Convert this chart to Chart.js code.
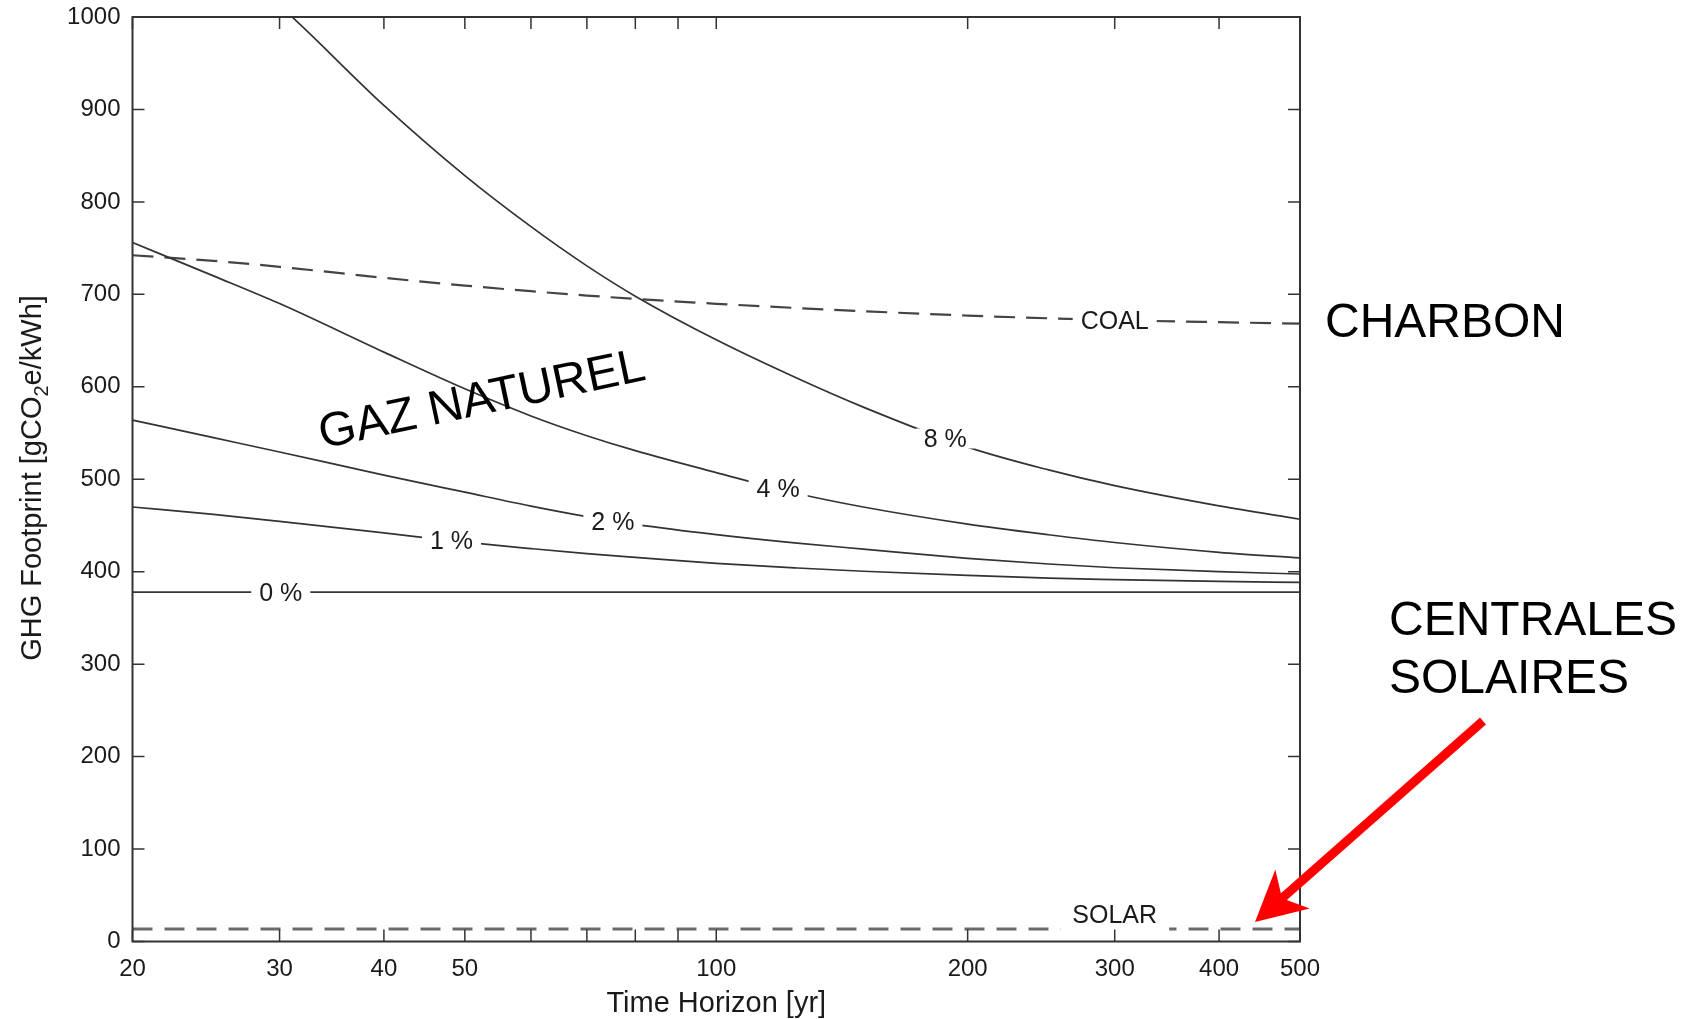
<!DOCTYPE html>
<html><head><meta charset="utf-8">
<script src="https://cdn.jsdelivr.net/npm/chart.js@4.4.1/dist/chart.umd.min.js"></script>
<style>html,body{margin:0;padding:0;background:#fff;}canvas{display:block;}</style>
</head><body>
<canvas id="c" width="1695" height="1019"></canvas>
<script>
// ---- data ----
const horizons = [20, 25, 30, 40, 50, 60, 70, 80, 100, 125, 150, 200, 250, 300, 400, 500];
const leak0 = [378, 378, 378, 378, 378, 378, 378, 378, 378, 378, 378, 378, 378, 378, 378, 378];
const leak1 = [470, 462, 454.5, 442, 432, 425, 419.5, 415.5, 409, 404, 400.5, 396, 393, 391.5, 389.5, 388.5];
const leak2 = [564, 545, 529.5, 504.5, 486, 471, 459.6, 451.2, 440.1, 430.9, 424.5, 414.5, 408.3, 404.3, 400, 397.5];
const leak4 = [756, 720, 690, 637.5, 597.8, 568.5, 547.1, 530.9, 507.2, 484.6, 470, 451.5, 440, 431.6, 421, 415];
const leak8 = [1126, 1070, 1012.4, 904.4, 828.4, 773.2, 730.8, 698, 650.8, 609.2, 578, 534.8, 510.1, 493.1, 471.2, 456.7];
const coal  = [742.3, 736.2, 729.8, 717.9, 709.5, 703.4, 698.7, 695.1, 689.8, 685.2, 681.8, 677, 674.1, 672.1, 669.9, 668.3];
const solar = [13.5, 13.5, 13.5, 13.5, 13.5, 13.5, 13.5, 13.5, 13.5, 13.5, 13.5, 13.5, 13.5, 13.5, 13.5, 13.5];

const xTicks = [20, 30, 40, 50, 60, 70, 80, 90, 100, 200, 300, 400, 500];
const xTickLabels = [20, 30, 40, 50, 100, 200, 300, 400, 500];
const yTicks = [0, 100, 200, 300, 400, 500, 600, 700, 800, 900, 1000];

const lineLabelTexts = ['0 %', '1 %', '2 %', '4 %', '8 %', 'COAL', 'SOLAR'];
const lineLabelSeries = [leak0, leak1, leak2, leak4, leak8, coal, solar];
const lineLabelHorizons = [30.1, 48.2, 75.2, 118.6, 188, 300, 300];

const FONT = '"Liberation Sans", Arial, Helvetica, sans-serif';

function pts(arr) { return horizons.map((h, i) => ({ x: h, y: arr[i] })); }
function interp(arr, t) {
  for (let i = 0; i < horizons.length - 1; i++) {
    if (t >= horizons[i] && t <= horizons[i + 1]) {
      const f = Math.log(t / horizons[i]) / Math.log(horizons[i + 1] / horizons[i]);
      return arr[i] + f * (arr[i + 1] - arr[i]);
    }
  }
  return arr[arr.length - 1];
}

const decor = {
  id: 'decor',
  afterDatasetsDraw(chart) {
    const { ctx, chartArea: a, scales: { x, y } } = chart;
    ctx.save();
    // labels sitting on the curves
    ctx.font = `25px ${FONT}`;
    ctx.textAlign = 'center';
    ctx.textBaseline = 'middle';
    lineLabelTexts.forEach((txt, i) => {
      const t = lineLabelHorizons[i];
      const px = x.getPixelForValue(t);
      const py = y.getPixelForValue(interp(lineLabelSeries[i], t));
      const w = ctx.measureText(txt).width;
      const above = txt === 'SOLAR';
      const ty = above ? py - 15 : py;
      ctx.fillStyle = '#fff';
      if (above) ctx.fillRect(px - w / 2 - 12, ty - 12, w + 24, py - ty + 16);
      else ctx.fillRect(px - w / 2 - 8, ty - 10, w + 16, 20);
      ctx.fillStyle = '#1a1a1a';
      ctx.fillText(txt, px, ty + 2);
    });

    // inward ticks on all four sides
    ctx.strokeStyle = '#333';
    ctx.lineWidth = 1.5;
    ctx.beginPath();
    xTicks.forEach(v => {
      const px = x.getPixelForValue(v);
      ctx.moveTo(px, a.bottom); ctx.lineTo(px, a.bottom - 12);
      ctx.moveTo(px, a.top); ctx.lineTo(px, a.top + 12);
    });
    yTicks.forEach(v => {
      const py = y.getPixelForValue(v);
      ctx.moveTo(a.left, py); ctx.lineTo(a.left + 12, py);
      ctx.moveTo(a.right, py); ctx.lineTo(a.right - 12, py);
    });
    ctx.stroke();
    ctx.lineWidth = 2;
    ctx.strokeRect(a.left, a.top, a.right - a.left, a.bottom - a.top);

    // y axis title with subscript
    ctx.save();
    ctx.translate(40.5, 478);
    ctx.rotate(-Math.PI / 2);
    ctx.fillStyle = '#1a1a1a';
    ctx.textBaseline = 'alphabetic';
    ctx.textAlign = 'left';
    const big = `29px ${FONT}`, small = `20px ${FONT}`;
    const p1 = 'GHG Footprint [gCO', p2 = '2', p3 = 'e/kWh]';
    ctx.font = big; const w1 = ctx.measureText(p1).width, w3 = ctx.measureText(p3).width;
    ctx.font = small; const w2 = ctx.measureText(p2).width;
    let sx = -(w1 + w2 + w3) / 2;
    ctx.font = big; ctx.fillText(p1, sx, 0); sx += w1;
    ctx.font = small; ctx.fillText(p2, sx, 7); sx += w2;
    ctx.font = big; ctx.fillText(p3, sx, 0);
    ctx.restore();

    // annotations
    ctx.fillStyle = '#000';
    ctx.save();
    ctx.translate(482, 401);
    ctx.rotate(-12 * Math.PI / 180);
    ctx.font = `48px ${FONT}`;
    ctx.textAlign = 'center';
    ctx.textBaseline = 'middle';
    ctx.fillText('GAZ NATUREL', 0, 0);
    ctx.restore();

    ctx.font = `48px ${FONT}`;
    ctx.textAlign = 'left';
    ctx.textBaseline = 'alphabetic';
    ctx.fillText('CHARBON', 1325, 337);
    ctx.fillText('CENTRALES', 1389, 635);
    ctx.fillText('SOLAIRES', 1389, 693);

    // red arrow
    const tail = [1483, 721], tip = [1255, 922];
    const dx = tip[0] - tail[0], dy = tip[1] - tail[1];
    const L = Math.hypot(dx, dy), ux = dx / L, uy = dy / L, nx = -uy, ny = ux;
    const headLen = 50, headHalf = 26, notch = 36;
    const nb = [tip[0] - ux * notch, tip[1] - uy * notch];
    ctx.strokeStyle = '#ff0000';
    ctx.fillStyle = '#ff0000';
    ctx.lineWidth = 9;
    ctx.lineCap = 'butt';
    ctx.beginPath(); ctx.moveTo(tail[0], tail[1]); ctx.lineTo(nb[0] + ux * 2, nb[1] + uy * 2); ctx.stroke();
    ctx.beginPath();
    ctx.moveTo(tip[0], tip[1]);
    ctx.lineTo(tip[0] - ux * headLen + nx * headHalf, tip[1] - uy * headLen + ny * headHalf);
    ctx.lineTo(nb[0], nb[1]);
    ctx.lineTo(tip[0] - ux * headLen - nx * headHalf, tip[1] - uy * headLen - ny * headHalf);
    ctx.closePath();
    ctx.fill();
    ctx.restore();
  }
};

const solid = { borderColor: '#333', borderWidth: 1.7, pointRadius: 0, cubicInterpolationMode: 'monotone', fill: false };

new Chart(document.getElementById('c'), {
  type: 'line',
  data: {
    datasets: [
      { label: '0 %', data: pts(leak0), ...solid },
      { label: '1 %', data: pts(leak1), ...solid },
      { label: '2 %', data: pts(leak2), ...solid },
      { label: '4 %', data: pts(leak4), ...solid },
      { label: '8 %', data: pts(leak8), ...solid },
      { label: 'COAL', data: pts(coal), borderColor: '#444', borderWidth: 2.2, borderDash: [21, 11], pointRadius: 0, cubicInterpolationMode: 'monotone', fill: false },
      { label: 'SOLAR', data: pts(solar), borderColor: '#6a6a6a', borderWidth: 3, borderDash: [20, 12], pointRadius: 0, fill: false }
    ]
  },
  options: {
    responsive: false,
    animation: false,
    devicePixelRatio: 1,
    layout: { padding: { left: 0, top: 17, right: 395, bottom: 0 } },
    plugins: { legend: { display: false }, tooltip: { enabled: false } },
    scales: {
      x: {
        type: 'logarithmic',
        min: 20, max: 500,
        grid: { display: false, drawTicks: false },
        border: { display: false },
        afterBuildTicks(scale) { scale.ticks = xTicks.map(v => ({ value: v })); },
        afterFit(scale) { scale.height = 77.5; scale.paddingLeft = 0; scale.paddingRight = 0; },
        ticks: {
          autoSkip: false, maxRotation: 0, padding: 13,
          color: '#1a1a1a', font: { family: FONT, size: 24 },
          callback(v) { return xTickLabels.includes(v) ? String(v) : ''; }
        },
        title: { display: true, text: 'Time Horizon [yr]', color: '#1a1a1a', font: { family: FONT, size: 29, lineHeight: 1 }, padding: { top: 0, bottom: 1 } }
      },
      y: {
        min: 0, max: 1000,
        grid: { display: false, drawTicks: false },
        border: { display: false },
        afterBuildTicks(scale) { scale.ticks = yTicks.map(v => ({ value: v })); },
        afterFit(scale) { scale.width = 132.5; scale.paddingTop = 0; scale.paddingBottom = 0; },
        ticks: { padding: 12, color: '#1a1a1a', font: { family: FONT, size: 24 }, callback(v) { return String(v); } }
      }
    }
  },
  plugins: [decor]
});
</script>
</body></html>
